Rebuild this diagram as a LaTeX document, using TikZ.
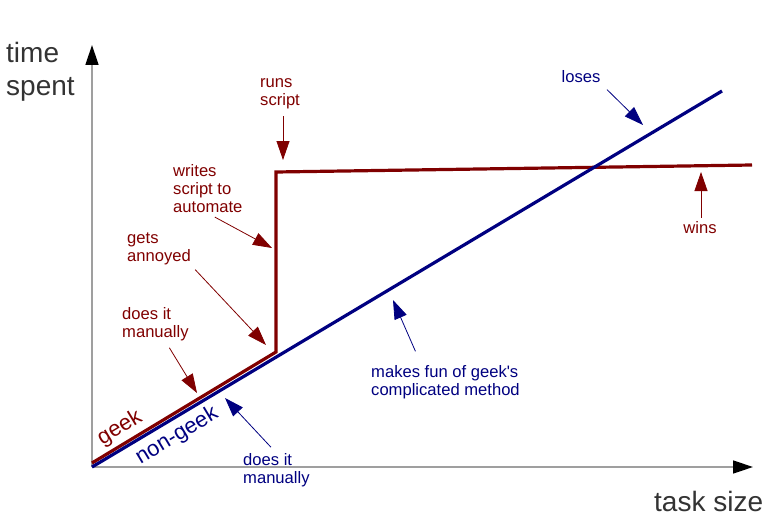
\documentclass[tikz,border=0pt]{standalone}
\usepackage{fontspec}
\setmainfont{Liberation Sans}
\usepackage{tikz}
\usepackage{xcolor}
\usetikzlibrary{arrows.meta}
\definecolor{geekred}{HTML}{800000}
\definecolor{nongeekblue}{HTML}{000080}
\tikzset{
    axis-line/.style = {draw=gray!75, line width=1.4pt, -{Triangle[length=20pt, width=13pt, color=black]}},
    axis-label/.style = {text=black!80, font=\fontsize{28}{33}\selectfont, align=left, inner sep=0pt, anchor=west},
    geek-line/.style = {draw=geekred, line width=3.2pt},
    nongeek-line/.style = {draw=nongeekblue, line width=3.2pt},
    red-label/.style = {text=geekred, font=\fontsize{16.6}{18}\selectfont, align=left, inner sep=0pt, anchor=west},
    blue-label/.style = {text=nongeekblue, font=\fontsize{16.6}{18}\selectfont, align=left, inner sep=0pt, anchor=west},
    red-arrow/.style = {draw=geekred, line width=0.8pt, -{Triangle[length=19pt, width=13pt]}},
    blue-arrow/.style = {draw=nongeekblue, line width=0.8pt, -{Triangle[length=19pt, width=13pt]}},
    line-label/.style = {font=\fontsize{22}{22}\selectfont, inner sep=0pt, rotate=31},
}

\begin{document}
\begin{tikzpicture}[x=1pt, y=-1pt]
\useasboundingbox (0,0) rectangle (774,519);
% axes
\coordinate (axis-origin) at (92,467);
\coordinate (y-top) at (92,45);
\coordinate (x-end) at (753,467);
\draw[axis-line] (axis-origin) -- (y-top);
\draw[axis-line] (axis-origin) -- (x-end);
\node[axis-label] (time-label) at (6,72) {time\\spent};
\node[axis-label] (size-label) at (654,501) {task size};

% the two curves
\coordinate (geek-start) at (92,463);
\coordinate (annoyed-point) at (276,352);
\coordinate (script-point) at (276,172);
\coordinate (geek-end) at (752,165);
\coordinate (nongeek-end) at (722,91);
\draw[geek-line] (geek-start) -- (annoyed-point) -- (script-point) -- (geek-end);
\draw[nongeek-line] (axis-origin) -- (nongeek-end);
\node[line-label, text=geekred] (geek-label) at (120,428) {geek};
\node[line-label, text=nongeekblue] (nongeek-label) at (177,436) {non-geek};

% geek remarks
\node[red-label] (runs-label) at (260,94) {runs\\script};
\node[red-label] (writes-label) at (173,189) {writes\\script to\\automate};
\node[red-label] (annoyed-label) at (127,249) {gets\\annoyed};
\node[red-label] (manual-label) at (122,324) {does it\\manually};
\node[red-label, anchor=center] (wins-label) at (700,228) {wins};
\coordinate (runs-tip) at (283,160);
\coordinate (writes-tip) at (272,248);
\coordinate (annoyed-tip) at (266,345);
\coordinate (manual-tip) at (197,393);
\coordinate (wins-tip) at (701,172);
\draw[red-arrow, shorten <=7pt] (runs-label.south -| runs-tip) -- (runs-tip);
\draw[red-arrow, shorten <=8pt] (writes-label.south) -- (writes-tip);
\draw[red-arrow, shorten <=6pt] (annoyed-label.south east) -- (annoyed-tip);
\draw[red-arrow, shorten <=8pt] (manual-label.-60) -- (manual-tip);
\draw[red-arrow, shorten <=4pt] (wins-label.north -| wins-tip) -- (wins-tip);

% non-geek remarks
\node[blue-label, anchor=center] (loses-label) at (581,77) {loses};
\node[blue-label] (bmanual-label) at (243,470) {does it\\manually};
\node[blue-label] (fun-label) at (371,382) {makes fun of geek\textquotesingle s\\complicated method};
\coordinate (loses-tip) at (643,125);
\coordinate (bmanual-tip) at (225,398);
\coordinate (fun-tip) at (393,300);
\draw[blue-arrow, shorten <=9pt] (loses-label.south east) -- (loses-tip);
\draw[blue-arrow, shorten <=8pt] (bmanual-label.north) -- (bmanual-tip);
\draw[blue-arrow, shorten <=15pt] ([xshift=-24pt]fun-label.north) -- (fun-tip);
\end{tikzpicture}
\end{document}
